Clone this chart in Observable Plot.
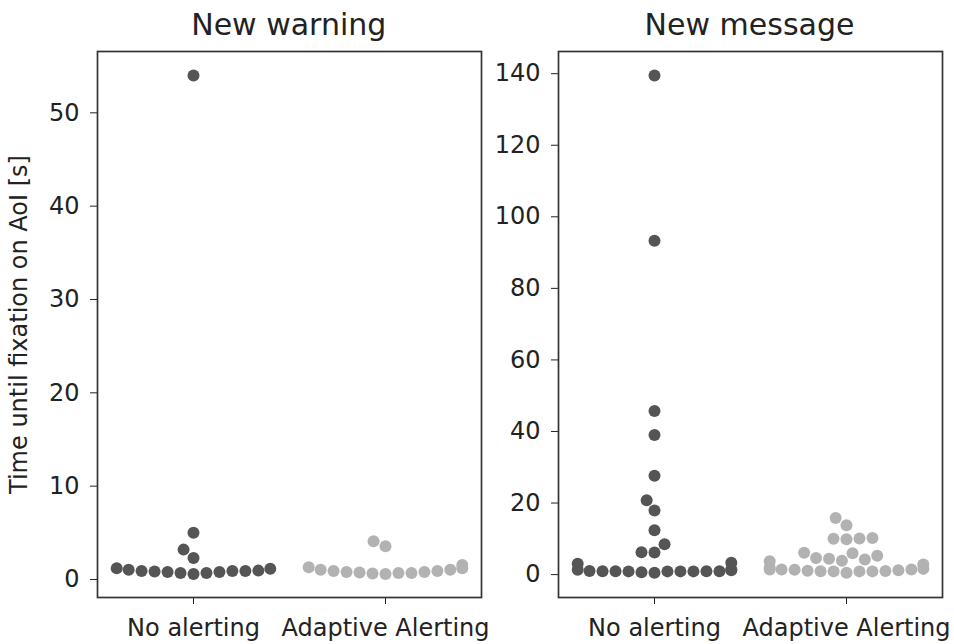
<!DOCTYPE html>
<html>
<head>
<meta charset="utf-8">
<script src="https://cdn.jsdelivr.net/npm/d3@7"></script>
<script src="https://cdn.jsdelivr.net/npm/@observablehq/plot@0.6"></script>
<style>
  body { margin: 0; background: #fff; font-family: "DejaVu Sans", sans-serif; }
  #fig { position: relative; width: 954px; height: 644px; overflow: hidden; }
  .panel { position: absolute; top: 0; }
  .title { height: 45px; box-sizing: border-box; padding-top: 5px; line-height: 40px;
           font-size: 30px; color: #222; text-align: center; position: relative; white-space: nowrap; }
  svg { display: block; }
</style>
</head>
<body>
<div id="fig"></div>
<script>
// Conditions on the categorical axis
const conditions = ["No alerting", "Adaptive Alerting"];

// Time until first fixation on the AoI [s] — "New warning"
const warningNoAlerting = [54.0, 5.0, 3.2, 2.3, 1.2, 1.05, 0.9, 0.9, 0.8, 0.7, 0.6, 0.7, 0.8, 0.85, 0.9, 0.95, 1.15];
const warningAdaptive = [4.1, 3.55, 1.3, 1.05, 0.9, 0.8, 0.7, 0.65, 0.6, 0.7, 0.75, 0.8, 0.9, 1.05, 1.2, 1.55];

// Time until first fixation on the AoI [s] — "New message"
const messageNoAlerting = [139.5, 93.3, 45.7, 39.0, 27.6, 20.8, 17.9, 12.4, 8.5, 6.2, 6.25,
  3.3, 1.4, 1.2, 0.95, 0.95, 0.95, 0.95, 0.65, 0.55, 0.9, 0.9, 0.9, 0.9, 1.0, 1.35, 3.0];
const messageAdaptive = [15.8, 13.8, 9.9, 10.0, 10.1, 10.2, 3.9, 4.2, 4.4, 4.65, 5.3, 6.0, 6.1,
  0.5, 0.9, 0.9, 0.9, 0.95, 1.0, 1.1, 1.2, 1.35, 1.4, 1.4, 1.45, 1.6, 1.9, 2.8, 3.7];

// Axis limits and ticks
const warningTicks = [0, 10, 20, 30, 40, 50];
const warningDomain = [-1.93, 56.57];
const messageTicks = [0, 20, 40, 60, 80, 100, 120, 140];
const messageDomain = [-6.4, 146.2];

const yLabel = "Time until fixation on AoI [s]";
const dotColors = ["#555555", "#b2b2b2"];

// Keep swarm points inside 80% of each category's band, piling up at the edges.
function gutter(fraction) {
  return (data, facets, channels, scales, dims) => {
    const {width, marginLeft, marginRight} = dims;
    const cx = (marginLeft + width - marginRight) / 2;
    const lim = fraction * (width - marginLeft - marginRight) / 2;
    const X = Float64Array.from(channels.x.value, (v) => Math.max(cx - lim, Math.min(cx + lim, v)));
    return {channels: {x: {value: X}}};
  };
}

function panel({title, noAlerting, adaptive, domain, ticks, label, left, width, marginLeft, marginRight}) {
  const rows = [
    ...noAlerting.map((t) => ({cond: conditions[0], t})),
    ...adaptive.map((t) => ({cond: conditions[1], t}))
  ];
  // the swarm is built from the lowest value upwards
  rows.sort((a, b) => a.t - b.t);

  const svg = Plot.plot({
    width,
    height: 599,
    marginTop: 6,
    marginBottom: 47,
    marginLeft,
    marginRight,
    style: {fontFamily: "DejaVu Sans, sans-serif", fontSize: "24px", color: "#222", background: "transparent", overflow: "visible"},
    fx: {domain: conditions, padding: 0, label: null, tickSize: 7, tickPadding: 14},
    y: {domain, ticks, tickSize: 7, tickPadding: 11, label, labelAnchor: "center", labelOffset: 88, labelArrow: "none"},
    color: {domain: conditions, range: dotColors},
    marks: [
      Plot.frame({facet: "super", stroke: "#333", strokeWidth: 1.7}),
      Plot.dot(rows, Plot.initializer(
        Plot.dodgeX({anchor: "middle", padding: 1}, {fx: "cond", y: "t", r: 6, fill: "cond"}),
        gutter(0.8)
      ))
    ]
  });

  const div = document.createElement("div");
  div.className = "panel";
  div.style.left = left + "px";
  div.style.width = width + "px";
  const head = document.createElement("div");
  head.className = "title";
  head.style.marginLeft = marginLeft + "px";
  head.style.width = (width - marginLeft - marginRight) + "px";
  head.textContent = title;
  div.appendChild(head);
  div.appendChild(svg);
  document.getElementById("fig").appendChild(div);
}

panel({
  title: "New warning", noAlerting: warningNoAlerting, adaptive: warningAdaptive,
  domain: warningDomain, ticks: warningTicks, label: yLabel,
  left: 0, width: 490, marginLeft: 96.5, marginRight: 9
});
panel({
  title: "New message", noAlerting: messageNoAlerting, adaptive: messageAdaptive,
  domain: messageDomain, ticks: messageTicks, label: null,
  left: 490, width: 464, marginLeft: 67, marginRight: 12
});
</script>
</body>
</html>
